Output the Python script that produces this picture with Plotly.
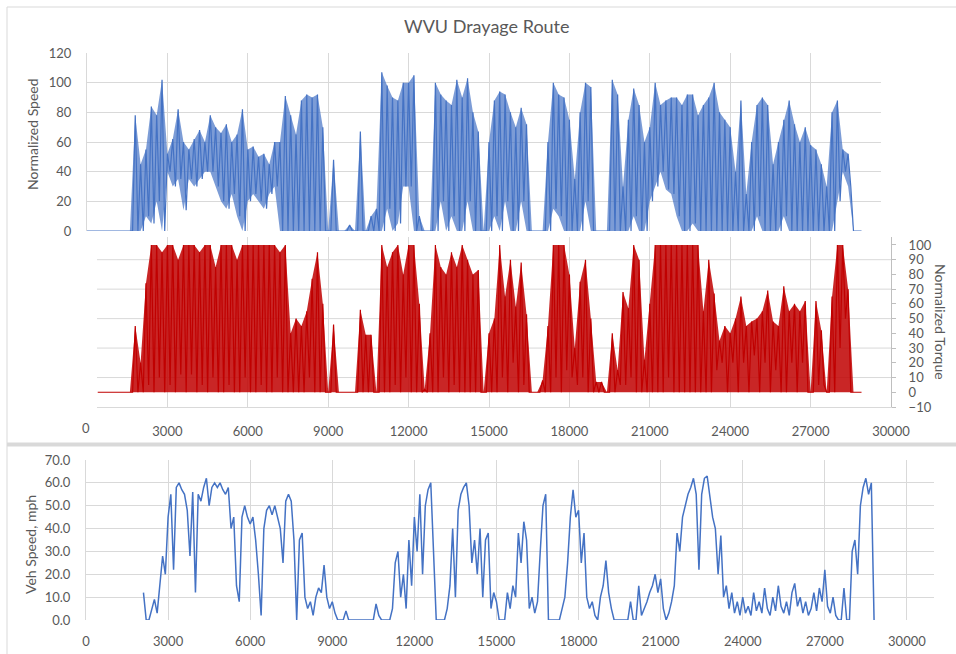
import plotly.graph_objects as go

W, H = 956, 654
FONT = "Lato, Carlito, Calibri, sans-serif"
GRAY = "#595959"
GRID = "#D9D9D9"
BLUE = "#4472C4"
RED = "#C00000"

# ---------------- data ----------------
STEP = 200
# Normalized speed, envelope peaks/troughs every 200 s starting at t=0
SPEED_T0 = 0
SPEED_HI = [
    0, 0, 0, 0, 0, 0, 0, 0, 0, 78,
    45, 55, 84, 78, 102, 52, 62, 82, 60, 55,
    62, 68, 60, 78, 70, 66, 72, 60, 65, 82,
    55, 57, 50, 52, 45, 60, 60, 91, 78, 65,
    88, 92, 90, 92, 70, 0, 48, 0, 0, 4,
    0, 67, 0, 10, 15, 107, 98, 90, 88, 100,
    100, 105, 10, 0, 0, 100, 92, 88, 85, 102,
    90, 103, 80, 67, 0, 60, 88, 94, 92, 80,
    70, 83, 72, 0, 0, 0, 60, 100, 92, 90,
    75, 35, 80, 100, 97, 0, 0, 0, 102, 92,
    30, 75, 96, 85, 60, 70, 100, 85, 88, 90,
    90, 85, 92, 92, 78, 85, 90, 100, 80, 75,
    70, 40, 88, 25, 60, 85, 90, 85, 45, 60,
    75, 88, 72, 60, 70, 58, 55, 45, 30, 80,
    88, 55, 52, 0, 0,
]
SPEED_LO = [
    0, 0, 0, 0, 0, 0, 0, 0, 0, 0,
    0, 10, 5, 20, 0, 40, 30, 35, 14, 35,
    30, 35, 40, 40, 30, 20, 15, 25, 10, 0,
    20, 25, 20, 15, 25, 30, 0, 0, 0, 0,
    0, 0, 0, 0, 0, 0, 0, 0, 0, 0,
    0, 0, 0, 0, 0, 0, 15, 0, 5, 30,
    30, 0, 0, 0, 0, 0, 20, 0, 10, 0,
    0, 20, 0, 0, 0, 0, 10, 0, 20, 0,
    0, 20, 0, 0, 0, 0, 0, 15, 10, 0,
    0, 0, 0, 20, 0, 0, 0, 0, 0, 0,
    0, 0, 10, 0, 0, 20, 30, 40, 28, 25,
    10, 0, 0, 5, 0, 0, 0, 0, 0, 0,
    0, 0, 0, 0, 0, 10, 0, 0, 0, 0,
    10, 0, 0, 0, 0, 0, 0, 0, 0, 0,
    20, 40, 30, 0, 0,
]

# Normalized torque, every 200 s starting at t=400
TORQUE_T0 = 400
TORQUE_HI = [
    0, 0, 0, 0, 0, 0, 0, 45,
    20, 74, 100, 100, 95, 100, 100, 90, 100, 100,
    100, 95, 100, 100, 85, 100, 100, 100, 90, 100,
    100, 100, 100, 100, 100, 100, 95, 100, 40, 50,
    45, 55, 77, 95, 60, 0, 46, 0, 0, 0,
    0, 56, 39, 39, 0, 100, 85, 95, 100, 80,
    100, 100, 60, 2, 40, 100, 85, 80, 95, 85,
    100, 90, 80, 83, 0, 40, 50, 100, 65, 90,
    58, 88, 53, 0, 0, 8, 45, 100, 100, 100,
    80, 30, 75, 90, 50, 7, 7, 0, 40, 15,
    68, 57, 100, 90, 22, 60, 100, 100, 100, 100,
    100, 100, 100, 100, 100, 55, 90, 67, 35, 45,
    40, 50, 65, 45, 48, 50, 55, 69, 48, 45,
    72, 55, 60, 55, 62, 0, 62, 42, 0, 65,
    100, 100, 70, 0, 0,
]
TORQUE_LO = [
    0, 0, 0, 0, 0, 0, 0, 0,
    0, 5, 0, 10, 0, 5, 0, 12, 0, 12,
    0, 5, 0, 10, 0, 0, 5, 0, 0, 10,
    0, 0, 5, 0, 0, 10, 0, 0, 0, 0,
    0, 10, 0, 0, 0, 0, 0, 0, 0, 0,
    0, 0, 0, 0, 0, 0, 0, 5, 0, 10,
    0, 0, 0, 0, 0, 0, 10, 0, 5, 0,
    0, 0, 0, 0, 0, 0, 0, 10, 0, 20,
    0, 5, 0, 0, 0, 0, 0, 10, 0, 15,
    10, 5, 10, 0, 0, 0, 0, 0, 0, 5,
    5, 10, 0, 0, 0, 0, 0, 0, 10, 0,
    0, 0, 0, 0, 0, 0, 0, 15, 20, 0,
    20, 0, 20, 0, 25, 0, 20, 0, 15, 0,
    0, 20, 0, 20, 0, 0, 5, 5, 0, 0,
    30, 50, 0, 0, 0,
]

# Vehicle speed (mph), every 100 s starting at t=2100
VEH_T0 = 2100
VEH_STEP = 100
VEH_MPH = [
    12, 0, 0, 5, 9, 3, 15, 28, 20,
    45, 55, 22, 58, 60, 57, 55, 48, 28, 56,
    12, 55, 52, 58, 62, 50, 58, 60, 58, 60,
    57, 55, 58, 40, 45, 15, 8, 45, 50, 45,
    42, 45, 35, 20, 2, 40, 48, 50, 46, 50,
    45, 40, 25, 52, 55, 52, 35, 0, 35, 38,
    10, 5, 8, 2, 10, 14, 12, 24, 10, 5,
    8, 3, 0, 0, 0, 4, 0, 0, 0, 0,
    0, 0, 0, 0, 0, 0, 7, 2, 0, 0,
    0, 0, 5, 25, 30, 10, 20, 5, 35, 15,
    45, 30, 55, 20, 50, 57, 60, 30, 0, 0,
    0, 0, 5, 15, 40, 10, 48, 55, 58, 60,
    50, 25, 35, 20, 40, 10, 35, 38, 5, 12,
    8, 0, 0, 0, 12, 5, 15, 10, 38, 25,
    43, 35, 5, 10, 3, 8, 30, 50, 55, 0,
    0, 0, 0, 0, 5, 10, 25, 45, 57, 45,
    48, 25, 38, 10, 5, 8, 2, 0, 10, 15,
    26, 12, 5, 0, 0, 0, 0, 0, 0, 8,
    0, 0, 15, 2, 5, 8, 12, 15, 20, 12,
    18, 5, 0, 3, 8, 15, 38, 30, 45, 50,
    55, 58, 62, 55, 22, 55, 62, 63, 55, 45,
    40, 20, 37, 10, 15, 5, 12, 3, 8, 2,
    10, 3, 6, 2, 12, 4, 8, 3, 14, 5,
    2, 10, 4, 15, 6, 3, 8, 2, 12, 16,
    6, 10, 3, 8, 2, 5, 12, 4, 14, 8,
    22, 6, 3, 10, 2, 0, 0, 14, 0, 0,
    30, 35, 20, 50, 58, 62, 55, 60, 0,
]

X_TICKS = [0, 3000, 6000, 9000, 12000, 15000, 18000, 21000, 24000, 27000, 30000]
SPEED_TICKS = [0, 20, 40, 60, 80, 100, 120]
TORQUE_TICKS = [-10, 0, 10, 20, 30, 40, 50, 60, 70, 80, 90, 100]
TORQUE_GRID = [10, 30, 50, 70, 90]
VEH_TICKS = [0, 10, 20, 30, 40, 50, 60, 70]


def zigzag(t0, step, hi, lo):
    xs, ys = [], []
    for i, (h, l) in enumerate(zip(hi, lo)):
        t = t0 + i * step
        xs += [t, t + step / 2]
        ys += [h, l]
    return xs, ys


def px_x(p):
    return p / W


def px_y(p):
    return 1 - p / H


sx, sy = zigzag(SPEED_T0, STEP, SPEED_HI, SPEED_LO)
tx, ty = zigzag(TORQUE_T0, STEP, TORQUE_HI, TORQUE_LO)
s_t = [SPEED_T0 + i * STEP for i in range(len(SPEED_HI))]
q_t = [TORQUE_T0 + i * STEP for i in range(len(TORQUE_HI))]
vx = [VEH_T0 + i * VEH_STEP for i in range(len(VEH_MPH))]

fig = go.Figure()
# envelope bands (dense region look)
fig.add_trace(go.Scatter(x=s_t, y=SPEED_LO, mode="lines", line=dict(width=0),
                         xaxis="x", yaxis="y", hoverinfo="skip"))
fig.add_trace(go.Scatter(x=s_t, y=SPEED_HI, mode="lines", line=dict(width=0),
                         fill="tonexty", fillcolor="rgba(68,114,196,0.7)",
                         xaxis="x", yaxis="y", hoverinfo="skip"))
fig.add_trace(go.Scatter(x=sx, y=sy, mode="lines", line=dict(color=BLUE, width=1.2),
                         xaxis="x", yaxis="y", hoverinfo="skip"))
fig.add_trace(go.Scatter(x=q_t, y=TORQUE_HI, mode="lines", line=dict(width=0),
                         fill="tozeroy", fillcolor="rgba(192,0,0,0.85)",
                         xaxis="x2", yaxis="y2", hoverinfo="skip"))
fig.add_trace(go.Scatter(x=tx, y=ty, mode="lines", line=dict(color=RED, width=1.2),
                         xaxis="x2", yaxis="y2", hoverinfo="skip"))
fig.add_trace(go.Scatter(x=vx, y=VEH_MPH, mode="lines", line=dict(color=BLUE, width=1.5),
                         xaxis="x3", yaxis="y3", hoverinfo="skip"))

tickfont = dict(family=FONT, size=13, color=GRAY)
titlefont = dict(family=FONT, size=14, color=GRAY)

fig.update_layout(
    template="none",
    width=W, height=H, margin=dict(l=0, r=0, t=0, b=0, autoexpand=False),
    paper_bgcolor="white", plot_bgcolor="rgba(0,0,0,0)", showlegend=False,
    xaxis=dict(domain=[px_x(87), px_x(881)], range=[0, 29627], anchor="y", automargin=False,
               tickvals=X_TICKS, showticklabels=False, ticks="", showgrid=True, gridcolor=GRID,
               zeroline=False, showline=False),
    yaxis=dict(domain=[px_y(231), px_y(53)], range=[0, 120], anchor="x", automargin=False,
               tickvals=SPEED_TICKS, ticks="", showgrid=True, gridcolor=GRID, zeroline=False,
               showline=True, linecolor=GRID, tickfont=tickfont, ticklabelstandoff=12),
    xaxis2=dict(domain=[px_x(97), px_x(891)], range=[373, 30000], anchor="y2", automargin=False,
                tickvals=X_TICKS, tickformat="d", ticks="", showgrid=True, gridcolor=GRID,
                zeroline=False, showline=True, linecolor=GRID, tickfont=tickfont,
                ticklabelstandoff=12),
    yaxis2=dict(domain=[px_y(407), px_y(237)], range=[-10, 105.4], anchor="x2", side="right",
                automargin=False, tickvals=TORQUE_TICKS, showgrid=False, zeroline=False,
                showline=True, linecolor="#BFBFBF", ticks="outside", ticklen=4, tickcolor="#BFBFBF",
                tickfont=tickfont, ticklabelstandoff=10),
    xaxis3=dict(domain=[px_x(86), px_x(934)], range=[0, 30990], anchor="y3", automargin=False,
                tickvals=X_TICKS, tickformat="d", ticks="", showgrid=True, gridcolor=GRID,
                zeroline=False, showline=False, tickfont=tickfont, ticklabelstandoff=12),
    yaxis3=dict(domain=[px_y(620), px_y(460)], range=[0, 70], anchor="x3", automargin=False,
                tickvals=VEH_TICKS, tickformat=".1f", ticks="", showgrid=True, gridcolor=GRID,
                zeroline=False, showline=True, linecolor=GRID, tickfont=tickfont,
                ticklabelstandoff=12),
)

shapes = []
# torque horizontal gridlines (every 20 from 10)
for g in TORQUE_GRID:
    shapes.append(dict(type="line", xref="x2 domain", yref="y2", x0=0, x1=1, y0=g, y1=g,
                       line=dict(color=GRID, width=1), layer="below"))
# chart borders
shapes.append(dict(type="line", xref="paper", yref="paper", x0=px_x(7), x1=1,
                   y0=px_y(7), y1=px_y(7), line=dict(color="#D9D9D9", width=1)))
shapes.append(dict(type="line", xref="paper", yref="paper", x0=px_x(7), x1=px_x(7),
                   y0=px_y(7), y1=0, line=dict(color="#D9D9D9", width=1)))
shapes.append(dict(type="line", xref="paper", yref="paper", x0=px_x(7), x1=1,
                   y0=px_y(444.5), y1=px_y(444.5), line=dict(color="#D9D9D9", width=4)))
fig.update_layout(shapes=shapes)

fig.add_annotation(text="WVU Drayage Route", xref="paper", yref="paper",
                   x=px_x(487), y=px_y(26), xanchor="center", yanchor="middle",
                   showarrow=False, font=dict(family=FONT, size=18, color=GRAY))
fig.add_annotation(text="Normalized Speed", xref="paper", yref="paper",
                   x=px_x(32), y=px_y(134), xanchor="center", yanchor="middle",
                   showarrow=False, textangle=-90, font=titlefont)
fig.add_annotation(text="Normalized Torque", xref="paper", yref="paper",
                   x=px_x(941), y=px_y(322), xanchor="center", yanchor="middle",
                   showarrow=False, textangle=90, font=titlefont)
fig.add_annotation(text="Veh Speed, mph", xref="paper", yref="paper",
                   x=px_x(30), y=px_y(545), xanchor="center", yanchor="middle",
                   showarrow=False, textangle=-90, font=titlefont)
fig.add_annotation(text="0", xref="paper", yref="paper",
                   x=px_x(86), y=px_y(428), xanchor="center", yanchor="middle",
                   showarrow=False, font=tickfont)

fig.write_html("out.html")
